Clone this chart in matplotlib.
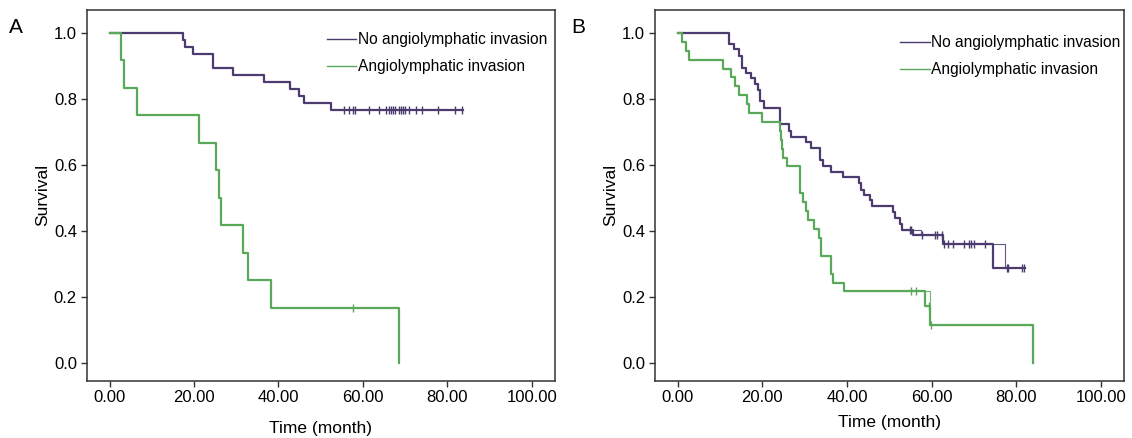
import matplotlib
matplotlib.use("Agg")
import matplotlib.pyplot as plt
import numpy as np

# Kaplan-Meier curves (time in months, survival after each event)
# panel A
pa_t = [17.5, 17.8, 19.7, 24.5, 29.2, 36.6, 42.7, 44.8, 46.1, 52.5]
pa_s = [0.979, 0.957, 0.936, 0.894, 0.872, 0.851, 0.830, 0.809, 0.787, 0.766]
pa_cens = [55.5, 56.6, 57.6, 58.2, 61.5, 63.7, 65.5, 66.1, 66.6, 67.1, 67.5,
           68.6, 69.1, 69.6, 70.0, 70.8, 72.6, 74.0, 77.8, 81.9, 83.4]
pa_end = 83.7

ga_t = [2.8, 3.5, 6.6, 21.1, 25.1, 25.9, 26.5, 31.6, 32.8, 38.3, 68.5]
ga_s = [0.917, 0.833, 0.750, 0.667, 0.583, 0.500, 0.417, 0.333, 0.250, 0.167, 0.0]
ga_cens = [57.6]
ga_end = 68.5

# panel B
pb_t = [12.2, 13.2, 14.4, 15.3, 16.1, 17.4, 18.3, 18.9, 19.4, 20.4, 24.1, 26.3,
        26.8, 30.4, 31.5, 33.7, 34.4, 36.3, 39.0, 42.8, 43.3, 44.1, 45.4, 45.9,
        50.8, 51.4, 52.4, 52.9, 55.5, 62.7, 74.5]
pb_s = [0.965, 0.951, 0.929, 0.894, 0.877, 0.862, 0.844, 0.826, 0.793, 0.773, 0.724, 0.703,
        0.685, 0.670, 0.650, 0.614, 0.596, 0.579, 0.562, 0.544, 0.525, 0.510, 0.493, 0.475,
        0.458, 0.438, 0.420, 0.402, 0.386, 0.359, 0.287]
pb_cens = [54.8, 55.0, 57.8, 60.7, 61.2, 62.5, 63.0, 63.8, 65.0, 67.6, 68.8, 69.3,
           70.0, 72.5, 77.7, 78.0, 81.4, 81.7]
pb_end = 82.1
# second, thinner trace that is overlaid in the original figure
pb_thin_start = (52.9, 0.402)
pb_thin_t = [57.5, 62.7, 77.4]
pb_thin_s = [0.386, 0.359, 0.287]

gb_t = [0.9, 1.9, 2.7, 10.7, 12.5, 13.6, 14.5, 16.3, 16.9, 19.9, 24.1, 24.4, 24.6,
        24.9, 25.7, 28.9, 29.7, 30.3, 30.8, 32.1, 33.3, 33.8, 36.2, 36.8, 39.4,
        58.5, 59.6, 84.0]
gb_s = [0.973, 0.946, 0.919, 0.892, 0.865, 0.838, 0.811, 0.784, 0.757, 0.730, 0.703, 0.676, 0.649,
        0.622, 0.595, 0.514, 0.487, 0.460, 0.433, 0.405, 0.378, 0.324, 0.270, 0.243, 0.216,
        0.172, 0.115, 0.0]
gb_cens = [55.0, 56.3, 59.3, 59.9]
gb_end = 84.0
gb_thin_start = (39.4, 0.216)
gb_thin_t = [59.6, 84.0]
gb_thin_s = [0.115, 0.0]

labels = ["No angiolymphatic invasion", "Angiolymphatic invasion"]
xticks = [0, 20, 40, 60, 80, 100]
yticks = [0.0, 0.2, 0.4, 0.6, 0.8, 1.0]

purple = "#4b3b6f"
green = "#5aa85a"
plt.rcParams["font.family"] = ["Liberation Sans", "DejaVu Sans"]


def km(ax, t, s, cens, end, color, label):
    x = np.r_[0.0, t, end]
    y = np.r_[1.0, s, s[-1]]
    ax.step(x, y, where="post", color=color, lw=1.6, label=label, zorder=3)
    tt = np.asarray(t)
    ss = np.asarray(s)
    cy = [ss[np.searchsorted(tt, c, side="right") - 1] for c in cens]
    ax.plot(cens, cy, ls="none", marker="|", ms=6, mew=1.0, color=color, zorder=4)


def thin(ax, start, t, s, color):
    x = np.r_[start[0], t, t[-1]]
    y = np.r_[start[1], s, s[-1]]
    ax.step(x, y, where="post", color=color, lw=0.8, alpha=0.85, zorder=2)


def style(ax, xlabpad):
    ax.set_xlim(-5.4, 105.4)
    ax.set_ylim(-0.0545, 1.069)
    ax.set_xticks(xticks)
    ax.set_xticklabels(["%.2f" % v for v in xticks], fontsize=12)
    ax.set_yticks(yticks)
    ax.set_yticklabels(["%.1f" % v for v in yticks], fontsize=12)
    ax.tick_params(direction="out", length=4, width=1, color="#333333", pad=3)
    for sp in ax.spines.values():
        sp.set_color("#333333")
        sp.set_linewidth(1.1)
    ax.set_xlabel("Time (month)", fontsize=12.5, labelpad=xlabpad)
    ax.set_ylabel("Survival", fontsize=12.5, labelpad=3)


fig = plt.figure(figsize=(11.32, 4.38), dpi=100)
axA = fig.add_axes([0.0766, 0.1308, 0.4134, 0.846])
axB = fig.add_axes([0.5785, 0.1308, 0.4143, 0.846])

km(axA, pa_t, pa_s, pa_cens, pa_end, purple, labels[0])
km(axA, ga_t, ga_s, ga_cens, ga_end, green, labels[1])

thin(axB, pb_thin_start, pb_thin_t, pb_thin_s, purple)
thin(axB, gb_thin_start, gb_thin_t, gb_thin_s, green)
km(axB, pb_t, pb_s, pb_cens, pb_end, purple, labels[0])
km(axB, gb_t, gb_s, gb_cens, gb_end, green, labels[1])

for ax, lx, ly, pad in [(axA, 0.513, 0.94, 11), (axB, 0.523, 0.932, 7)]:
    style(ax, pad)
    leg = ax.legend(loc="upper left", bbox_to_anchor=(lx, ly), frameon=False,
                    fontsize=11.2, handlelength=1.9, handletextpad=0.1,
                    labelspacing=0.75, borderpad=0, borderaxespad=0)
    for h in leg.get_lines():
        h.set_linewidth(1.0)

fig.text(0.008, 0.925, "A", fontsize=15)
fig.text(0.505, 0.925, "B", fontsize=15)

fig.savefig("out.png", dpi=100)
